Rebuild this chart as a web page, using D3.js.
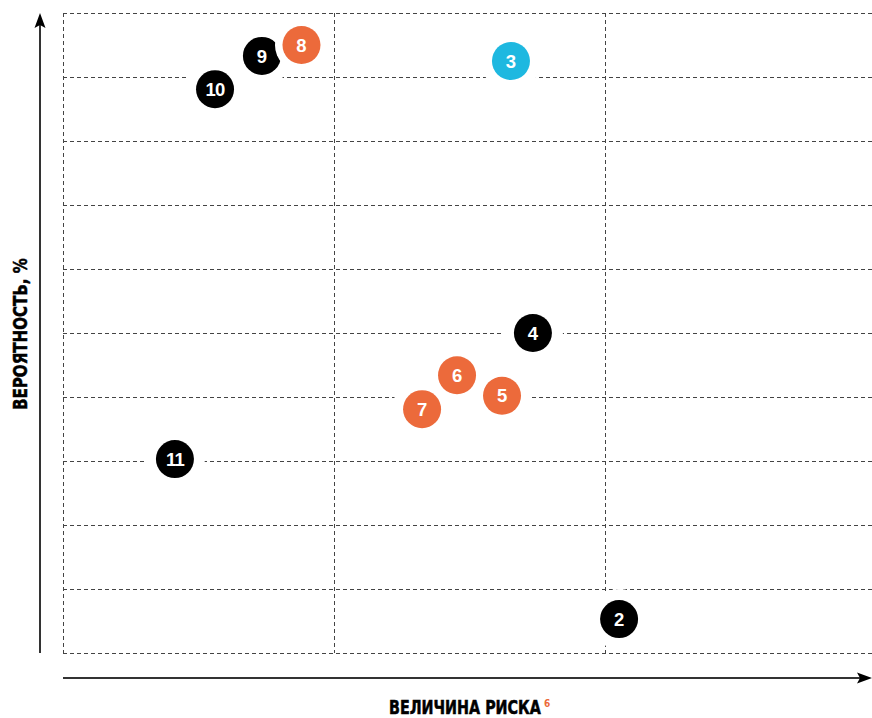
<!DOCTYPE html>
<html><head><meta charset="utf-8">
<script src="https://cdn.jsdelivr.net/npm/d3@7/dist/d3.min.js"></script>
<style>html,body{margin:0;padding:0;background:#fff;}svg{display:block;}</style>
</head><body>
<svg id="chart" width="872" height="718"></svg>
<script>
const labels = ["2","3","4","5","6","7","11","10","9","8"];
const risk   = [2.052,1.653,1.734,1.62,1.454,1.325,0.413,0.561,0.734,0.88];
const prob   = [5.3,92.5,50.0,40.2,43.4,38.1,30.3,88.1,93.3,95.0];
const groups = ["black","cyan","black","orange","orange","orange","black","black","black","orange"];
const xTicks = [0,1,2,3];
const yTicks = [0,10,20,30,40,50,60,70,80,90,100];
const colors = {black:"#000000", orange:"#EC6A3B", cyan:"#1EB8E0"};

const svg = d3.select("#chart");
const x = d3.scaleLinear().domain([0,3]).range([63,876]);
const y = d3.scaleLinear().domain([0,100]).range([653,13]);

const grid = svg.append("g").attr("stroke","#444").attr("stroke-width",1).attr("stroke-dasharray","4,3").attr("fill","none");
grid.selectAll(".h").data(yTicks).join("line")
  .attr("x1",x(0)).attr("x2",x(3)).attr("y1",d=>y(d)+0.5).attr("y2",d=>y(d)+0.5);
grid.selectAll(".v").data(xTicks).join("line")
  .attr("y1",y(100)).attr("y2",y(0)).attr("x1",d=>x(d)+0.5).attr("x2",d=>x(d)+0.5);

// axes arrows
const ax = svg.append("g");
ax.append("line").attr("x1",40).attr("x2",40).attr("y1",y(0)).attr("y2",y(100)+10).attr("stroke","#333").attr("stroke-width",2);
ax.append("path").attr("d",`M40,${y(100)} L34.5,${y(100)+15} L40,${y(100)+12} L45.5,${y(100)+15} Z`).attr("fill","#000");
ax.append("line").attr("x1",x(0)).attr("x2",862).attr("y1",678).attr("y2",678).attr("stroke","#333").attr("stroke-width",2);
ax.append("path").attr("d",`M872,678 L857,672.5 L860,678 L857,683.5 Z`).attr("fill","#000");

const pts = labels.map((l,i)=>({l, x:risk[i], y:prob[i], c:colors[groups[i]]}));
// halos over grid
svg.append("g").selectAll("circle").data(pts).join("circle")
  .attr("cx",d=>x(d.x)).attr("cy",d=>y(d.y)).attr("r",30).attr("fill","#fff");
const g = svg.append("g").selectAll("g").data(pts).join("g")
  .attr("transform",d=>`translate(${x(d.x)},${y(d.y)})`);
g.append("circle").attr("r",26.5).attr("fill","#fff");
g.append("circle").attr("r",19).attr("fill",d=>d.c);
g.append("text").text(d=>d.l).attr("text-anchor","middle").attr("dy","0.36em")
  .attr("fill","#fff").attr("font-family","'Liberation Sans', Arial, sans-serif")
  .attr("font-weight","bold").attr("font-size",18.5)
  .attr("letter-spacing",d=>d.l.length>1?"-0.8px":"0");

const font = "'Liberation Sans Narrow','DejaVu Sans Condensed','Liberation Sans',sans-serif";
function fitted(txt, tx, ty, rot, targetW){
  const gg = svg.append("g");
  const t = gg.append("text").text(txt).attr("font-family",font).attr("font-weight","bold")
    .attr("font-size",19).attr("fill","#000").attr("stroke","#000").attr("stroke-width",0.5);
  const w = t.node().getComputedTextLength();
  gg.attr("transform",`translate(${tx},${ty}) rotate(${rot}) scale(${targetW/w},1)`);
  return gg;
}
fitted("ВЕЛИЧИНА РИСКА", 389, 713.5, 0, 152);
svg.append("text").text("6").attr("x",544).attr("y",706.5).attr("font-family",font).attr("font-weight","bold")
  .attr("font-size",10).attr("fill","#EC6A3B");
fitted("ВЕРОЯТНОСТЬ, %", 26.5, 410, -90, 152);
</script>
</body></html>
